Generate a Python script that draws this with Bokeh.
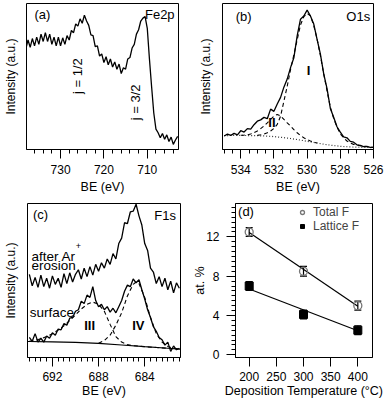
from math import pi
from bokeh.plotting import figure
from bokeh.models import (Range1d, FixedTicker, Label, ColumnDataSource, Whisker,
                          TeeHead, Legend, LegendItem)
from bokeh.layouts import row, column
from bokeh.embed import file_html
from bokeh.resources import INLINE

FONT = "Liberation Sans"
TICK_FS = "12px"
AXIS_FS = "12.5px"
ANN_FS = "13px"

# ---------------- (a) Fe2p ----------------
fe2p_be = [738.0, 737.5, 737.0, 736.5, 736.0, 735.5, 735.0, 734.5, 734.0, 733.5,
           733.0, 732.5, 732.0, 731.5, 731.0, 730.5, 730.0, 729.5, 729.0, 728.5,
           728.0, 727.5, 727.0, 726.5, 726.0, 725.5, 725.0, 724.5, 724.0, 723.5,
           723.0, 722.5, 722.0, 721.5, 721.0, 720.5, 720.0, 719.5, 719.0, 718.5,
           718.0, 717.5, 717.0, 716.5, 716.0, 715.5, 715.0, 714.5, 714.0, 713.5,
           713.0, 712.5, 712.0, 711.5, 711.0, 710.5, 710.0, 709.5, 709.0, 708.5,
           708.0, 707.5, 707.0, 706.5, 706.0, 705.5, 705.0, 704.5, 704.0, 703.5, 703.0]
fe2p_int = [69, 75, 70, 76, 71, 77, 72, 79, 74, 80,
            74, 79, 72, 77, 71, 77, 71, 76.5, 72, 78,
            75, 81.5, 80, 86, 84.5, 89.5, 86.5, 92, 88, 85,
            78.5, 78, 70.5, 71, 64, 65.5, 59.5, 63.5, 58, 62,
            56.5, 60, 55, 58.5, 52, 56, 55, 62, 63, 69.5,
            72, 79, 82, 88, 90, 91, 83, 62, 43, 25,
            14, 11.5, 8, 11, 7, 10, 5.5, 8.5, 3.5, 6.5, 9]
fe2p_major = [730, 720, 710]
fe2p_minor = [736, 734, 732, 728, 726, 724, 722, 718, 716, 714, 712, 708, 706, 704]

# ---------------- (b) O1s ----------------
o1s_be = [535.0, 534.8, 534.6, 534.4, 534.2, 534.0, 533.8, 533.6, 533.4, 533.2,
          533.0, 532.8, 532.6, 532.4, 532.2, 532.0, 531.8, 531.6, 531.4, 531.2,
          531.0, 530.8, 530.6, 530.4, 530.2, 530.0, 529.8, 529.6, 529.4, 529.2,
          529.0, 528.8, 528.6, 528.4, 528.2, 528.0, 527.8, 527.6, 527.4, 527.2,
          527.0, 526.8, 526.6, 526.4, 526.2, 526.0]
o1s_int = [10.2, 11.5, 10.6, 12.0, 11.0, 13.8, 12.9, 15.2, 14.9, 17.9,
           20.3, 21.2, 22.9, 22.0, 28.5, 27.0, 32.0, 36.5, 43.5, 49.0,
           56.8, 63.5, 78.5, 89.8, 92.0, 96.0, 92.0, 86.5, 76.0, 66.0,
           52.5, 42.5, 29.0, 23.0, 16.5, 12.8, 9.6, 9.0, 6.5, 6.0,
           4.2, 3.8, 3.0, 3.1, 2.5, 2.4]
o1s_I_be = [533.0, 532.8, 532.6, 532.4, 532.2, 532.0, 531.8, 531.6, 531.4, 531.2,
            531.0, 530.8, 530.6, 530.4, 530.2, 530.0, 529.8, 529.6, 529.4, 529.2,
            529.0, 528.8, 528.6, 528.4, 528.2, 528.0, 527.8, 527.6, 527.4, 527.2,
            527.0, 526.8, 526.6, 526.4, 526.2, 526.0]
o1s_I = [10.6, 11.0, 11.5, 12.4, 13.6, 15.4, 18.1, 23.7, 33.9, 44.1,
         55.4, 65.5, 75.7, 85.9, 91.5, 93.8, 92.2, 85.4, 76.3, 65.0,
         52.5, 41.0, 29.8, 22.1, 16.3, 11.7, 9.0, 6.8, 5.4, 4.5,
         4.1, 3.6, 3.2, 3.0, 2.7, 2.4]
o1s_II_be = [534.0, 533.8, 533.6, 533.4, 533.2, 533.0, 532.8, 532.6, 532.4, 532.2,
             532.0, 531.8, 531.6, 531.4, 531.2, 531.0, 530.8, 530.6, 530.4, 530.2,
             530.0, 529.8, 529.6, 529.4]
o1s_II = [10.7, 10.8, 11.0, 11.6, 12.5, 13.6, 15.2, 17.0, 19.2, 21.5,
          23.7, 24.9, 23.9, 21.5, 19.2, 17.0, 14.6, 12.4, 10.5, 9.0,
          7.8, 6.8, 6.0, 5.4]
o1s_bg_be = [535.0, 534.5, 534.0, 533.5, 533.0, 532.5, 532.0, 531.5, 531.0, 530.5,
             530.0, 529.5, 529.0, 528.5, 528.0, 527.5, 527.0, 526.5, 526.0]
o1s_bg = [10.4, 10.6, 10.6, 10.5, 10.4, 10.2, 9.8, 9.2, 8.5, 7.6,
          6.6, 5.6, 4.6, 3.8, 3.2, 2.8, 2.6, 2.4, 2.3]
o1s_major = [534, 532, 530, 528, 526]
o1s_minor = [526 + 0.5 * i for i in range(19)]

# ---------------- (c) F1s ----------------
f1s_be = [694.0, 693.75, 693.5, 693.25, 693.0, 692.75, 692.5, 692.25, 692.0, 691.75,
          691.5, 691.25, 691.0, 690.75, 690.5, 690.25, 690.0, 689.75, 689.5, 689.25,
          689.0, 688.75, 688.5, 688.25, 688.0, 687.75, 687.5, 687.25, 687.0, 686.75,
          686.5, 686.25, 686.0, 685.75, 685.5, 685.25, 685.0, 684.75, 684.5, 684.25,
          684.0, 683.75, 683.5, 683.25, 683.0, 682.75, 682.5, 682.25, 682.0, 681.75,
          681.5, 681.25, 681.0]
f1s_surface = [13, 10.5, 15.5, 10, 12.5, 10, 14, 12.5, 16, 14.5,
               18.5, 18, 22, 21, 25.5, 26, 30, 31, 36.5, 35,
               40.5, 39, 46, 37, 33, 34.5, 31, 33, 29.5, 32,
               29, 33, 37, 43, 47, 46, 51, 48.5, 50.5, 44,
               38, 31, 26, 20, 17, 13, 11.5, 8, 10, 4,
               7.5, 5, 6]
f1s_eroded = [54, 46.5, 52, 45.5, 53.5, 46, 51.5, 45, 53, 47.5,
              51.5, 45.5, 54.5, 48, 55, 49, 54, 57, 51, 58,
              52.5, 59, 53.5, 60.5, 56, 61.5, 58, 64, 60.5, 67.5,
              64, 74, 77.5, 87.5, 87, 94.5, 95, 99.5, 92, 86,
              74, 69.5, 58, 55.5, 48, 52.5, 46, 51.5, 44, 49.5,
              42, 48.5, 45]
f1s_bg_be = [694.2, 694.0, 692.0, 690.0, 688.0, 686.0, 684.0, 682.0, 681.0, 680.9]
f1s_bg = [10.4, 10.4, 10.1, 9.8, 9.2, 8.1, 7.0, 6.0, 5.4, 5.4]
f1s_III_be = [694.0, 693.5, 693.0, 692.5, 692.0, 691.5, 691.0, 690.5, 690.0, 689.5,
              689.0, 688.5, 688.0, 687.5, 687.0, 686.5, 686.0, 685.5, 685.0, 684.0,
              683.0, 682.0]
f1s_III = [10.6, 11.2, 12.2, 13.6, 15.4, 17.8, 20.6, 24.0, 27.6, 31.5,
           34.5, 36.0, 34.5, 30.0, 21.5, 13.5, 10.0, 8.4, 7.7, 7.0,
           6.5, 6.0]
f1s_IV_be = [688.0, 687.5, 687.0, 686.5, 686.0, 685.5, 685.0, 684.75, 684.5, 684.0,
             683.5, 683.0, 682.5, 682.0, 681.5, 681.0]
f1s_IV = [9.2, 11.0, 14.5, 21.0, 29.0, 40.0, 47.5, 49.0, 48.0, 39.0,
          26.0, 15.5, 10.0, 7.2, 6.0, 5.5]
f1s_major = [692, 688, 684]
f1s_minor = [681 + 0.5 * i for i in range(27)]

# ---------------- (d) at.% vs temperature ----------------
temp = [200, 300, 400]
total_f = [12.5, 8.5, 5.0]
total_err = [0.45, 0.5, 0.45]
lattice_f = [7.0, 4.1, 2.5]
lattice_err = [0.45, 0.45, 0.45]
fit_temp = [200, 400]
fit_total = [12.45, 4.95]
fit_lattice = [6.7, 2.45]
temp_major = [200, 250, 300, 350, 400]
at_major = [0, 4, 8, 12]
at_minor = [0.5 * i for i in range(31)]


def make_fig(w, h, xr, yr, bl, br, bt, bb):
    p = figure(width=w, height=h, x_range=xr, y_range=yr, output_backend="svg",
               toolbar_location=None, min_border_left=bl, min_border_right=br,
               min_border_top=bt, min_border_bottom=bb)
    p.grid.visible = False
    p.outline_line_color = "black"
    p.outline_line_width = 1
    p.outline_line_alpha = 1
    p.background_fill_color = "white"
    p.border_fill_color = "white"
    return p


def style_axis(ax, majors, minors, label, s1, s2):
    ax.ticker = FixedTicker(ticks=majors, minor_ticks=minors)
    ax.major_tick_out = 9
    ax.major_tick_in = 0
    ax.minor_tick_out = 4
    ax.minor_tick_in = 0
    ax.major_tick_line_color = "black"
    ax.minor_tick_line_color = "black"
    ax.axis_line_color = "black"
    ax.major_label_text_font = FONT
    ax.major_label_text_font_size = TICK_FS
    ax.major_label_text_color = "black"
    ax.major_label_standoff = s1
    ax.axis_label = label
    ax.axis_label_text_font = FONT
    ax.axis_label_text_font_size = AXIS_FS
    ax.axis_label_text_font_style = "normal"
    ax.axis_label_text_color = "black"
    ax.axis_label_standoff = s2


def intensity_axis(p, standoff):
    ax = p.yaxis[0]
    ax.ticker = FixedTicker(ticks=[])
    ax.major_tick_out = 0
    ax.major_tick_in = 0
    ax.minor_tick_out = 0
    ax.minor_tick_in = 0
    ax.major_tick_line_color = None
    ax.minor_tick_line_color = None
    ax.axis_line_color = None
    ax.major_label_standoff = 0
    ax.axis_label = "Intensity (a.u.)"
    ax.axis_label_text_font = FONT
    ax.axis_label_text_font_size = "12px"
    ax.axis_label_text_font_style = "normal"
    ax.axis_label_text_color = "black"
    ax.axis_label_standoff = standoff


def ann(p, x, y, text, align="left", baseline="top", size=ANN_FS, style="normal",
        angle=0.0):
    p.add_layout(Label(x=x, y=y, text=text, text_font=FONT,
                       text_font_size=size, text_font_style=style, text_color="black",
                       text_align=align, text_baseline=baseline, angle=angle))


# ---- panel a  (page x 0..194, y 0..202)
pa = make_fig(194, 202, Range1d(737.85, 702.8), Range1d(0, 100), 26, 16, 3, 51)
intensity_axis(pa, 9)
style_axis(pa.xaxis[0], fe2p_major, fe2p_minor, "BE (eV)", 6, 3)
pa.line(fe2p_be, fe2p_int, line_color="black", line_width=1.3)
ann(pa, 736.0, 97.5, "(a)")
ann(pa, 703.7, 97.5, "Fe2p", align="right")
ann(pa, 726.0, 38, "j = 1/2", baseline="middle", angle=pi / 2)
ann(pa, 712.8, 20, "j = 3/2", baseline="middle", angle=pi / 2)

# ---- panel b  (page x 194..384)
pb = make_fig(190, 202, Range1d(535.1, 526.0), Range1d(1.0, 100.5), 28, 11, 2, 53)
intensity_axis(pb, 10)
style_axis(pb.xaxis[0], o1s_major, o1s_minor, "BE (eV)", 6, 3)
pb.line(o1s_bg_be, o1s_bg, line_color="#333333", line_width=1.2, line_dash="1 2")
pb.line(o1s_II_be, o1s_II, line_color="black", line_width=1.1, line_dash="4 3")
pb.line(o1s_I_be, o1s_I, line_color="black", line_width=1.1, line_dash="4 3")
pb.line(o1s_be, o1s_int, line_color="black", line_width=1.3)
ann(pb, 534.3, 97, "(b)")
ann(pb, 526.2, 97, "O1s", align="right")
ann(pb, 529.92, 55, "I", align="center", baseline="middle", style="bold")
ann(pb, 532.12, 19.5, "II", align="center", baseline="middle", style="bold")

# ---- panel c  (page x 0..190, y 202..401)
pc = make_fig(190, 199, Range1d(694.16, 680.9), Range1d(0, 100), 27, 10, 1, 44)
intensity_axis(pc, 10)
style_axis(pc.xaxis[0], f1s_major, f1s_minor, "BE (eV)", 5, 0)
pc.line(f1s_bg_be, f1s_bg, line_color="black", line_width=1.2)
pc.line(f1s_III_be, f1s_III, line_color="black", line_width=1.1, line_dash="4 3")
pc.line(f1s_IV_be, f1s_IV, line_color="black", line_width=1.1, line_dash="4 3")
pc.line(f1s_be, f1s_surface, line_color="black", line_width=1.3)
pc.line(f1s_be, f1s_eroded, line_color="black", line_width=1.3)
ann(pc, 693.68, 98, "(c)")
ann(pc, 681.3, 97, "F1s", align="right")
ann(pc, 693.81, 65.5, "after Ar", baseline="alphabetic", size="13.5px")
ann(pc, 689.75, 72.5, "+", align="center", baseline="middle", size="9px")
ann(pc, 693.81, 59.5, "erosion", baseline="alphabetic", size="13.5px")
ann(pc, 693.96, 29.3, "surface", baseline="alphabetic", size="13.5px")
ann(pc, 688.78, 21.1, "III", align="center", baseline="middle", style="bold")
ann(pc, 684.55, 21.1, "IV", align="center", baseline="middle", style="bold")

# ---- panel d  (page x 190..384)
pdd = make_fig(194, 199, Range1d(174.8, 427), Range1d(-0.28, 15.4), 42, 12, 1, 44)
style_axis(pdd.xaxis[0], temp_major, [], "Deposition Temperature (°C)", 5, 0)
style_axis(pdd.yaxis[0], at_major, at_minor, "at. %", 7, -4)
pdd.line(fit_temp, fit_total, line_color="black", line_width=1.2)
pdd.line(fit_temp, fit_lattice, line_color="black", line_width=1.2)
src_t = ColumnDataSource(dict(x=temp,
                              upper=[v + e for v, e in zip(total_f, total_err)],
                              lower=[v - e for v, e in zip(total_f, total_err)]))
src_l = ColumnDataSource(dict(x=temp,
                              upper=[v + e for v, e in zip(lattice_f, lattice_err)],
                              lower=[v - e for v, e in zip(lattice_f, lattice_err)]))
for src in (src_t, src_l):
    pdd.add_layout(Whisker(source=src, base="x", upper="upper", lower="lower",
                           line_color="black", line_width=1.2,
                           upper_head=TeeHead(size=7, line_color="black", line_width=1.2),
                           lower_head=TeeHead(size=7, line_color="black", line_width=1.2)))
r_tot = pdd.scatter(temp, total_f, marker="circle", size=8, fill_color="white",
                    fill_alpha=0.0, line_color="#777777", line_width=1.3)
r_lat = pdd.scatter(temp, lattice_f, marker="square", size=8, fill_color="black",
                    line_color="black")
leg = Legend(items=[LegendItem(label="Total F", renderers=[r_tot]),
                    LegendItem(label="Lattice F", renderers=[r_lat])],
             location=(62, 124), border_line_color=None, background_fill_alpha=0.0,
             padding=0, margin=0, spacing=-3, label_text_font=FONT,
             label_text_font_size="12px", glyph_width=10, glyph_height=12,
             label_standoff=6, label_height=12)
pdd.add_layout(leg)
ann(pdd, 179.5, 15.35, "(d)")

layout = column(row(pa, pb), row(pc, pdd))
open("out.html", "w").write(file_html(layout, INLINE))
